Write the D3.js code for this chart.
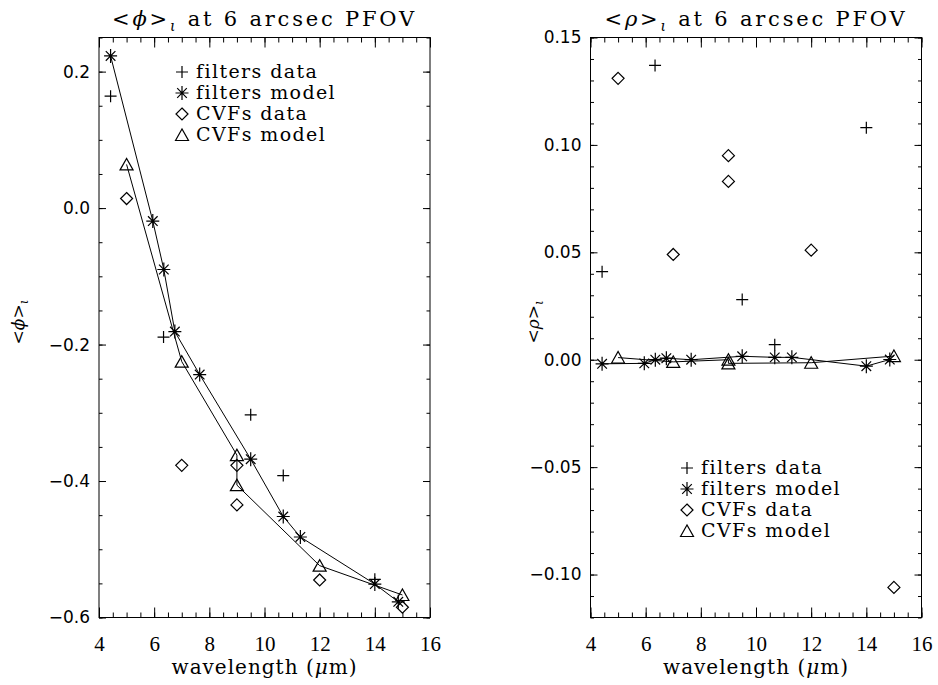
<!DOCTYPE html>
<html>
<head>
<meta charset="utf-8">
<script src="https://cdn.jsdelivr.net/npm/d3@7"></script>
<style>
  body { margin: 0; background: #fff; }
</style>
</head>
<body>
<div id="chart"></div>
<script>
// filter wavelengths (model points) and values
var filtWave = [4.42, 5.95, 6.35, 6.75, 7.65, 9.5, 10.68, 11.3, 14.0, 14.85];
var phiFiltModel = [0.223, -0.019, -0.09, -0.181, -0.244, -0.368, -0.452, -0.482, -0.551, -0.577];
var rhoFiltModel = [-0.0019, -0.0017, 0.0, 0.0007, 0.0, 0.0016, 0.0011, 0.0011, -0.003, 0.0001];

// filter data
var filtDataWave = [4.42, 6.34, 9.5, 10.68, 14.0];
var phiFiltData = [0.164, -0.189, -0.303, -0.392, -0.544];
var rhoFiltData = [0.041, 0.137, 0.028, 0.007, 0.108];

// CVF wavelengths, data and model
var cvfWave = [5.0, 7.0, 9.0, 9.0, 12.0, 15.0];
var phiCvfData = [0.014, -0.377, -0.377, -0.435, -0.545, -0.585];
var rhoCvfData = [0.131, 0.049, 0.095, 0.083, 0.051, -0.106];
var phiCvfModel = [0.064, -0.225, -0.362, -0.406, -0.524, -0.567];
var rhoCvfModel = [0.001, -0.001, 0.0, -0.0017, -0.0014, 0.0017];

// axis ticks
var xMajor = [4, 6, 8, 10, 12, 14, 16];
var xMinor = d3.range(4, 16.001, 0.5);
var phiMajor = [-0.6, -0.4, -0.2, 0.0, 0.2];
var phiMinor = d3.range(-0.6, 0.2501, 0.05);
var rhoMajor = [-0.10, -0.05, 0.0, 0.05, 0.10, 0.15];
var rhoMinor = d3.range(-0.12, 0.1501, 0.01);

var legendLabels = ["filters data", "filters model", "CVFs data", "CVFs model"];

var svgWidth = 938, svgHeight = 685;
var plotTop = 37.5, plotBottom = 617.5;
var serif = "'DejaVu Serif', serif";
var sans = "'DejaVu Sans', sans-serif";

var svg = d3.select("#chart").append("svg")
  .attr("width", svgWidth)
  .attr("height", svgHeight);

// IDL style symbols
var sym = {
  plus: "M-6,0H6M0,-6V6",
  star: "M-6.5,0H6.5M0,-7V7M-4.8,-4.8L4.8,4.8M-4.8,4.8L4.8,-4.8",
  diamond: "M0,-6L6,0L0,6L-6,0Z",
  triangle: "M-6.5,5.5L0,-6L6.5,5.5Z"
};
var legendSyms = [sym.plus, sym.star, sym.diamond, sym.triangle];

function addAxis(g, ax, t, font, size) {
  var a = g.append("g").attr("transform", t).call(ax);
  a.select(".domain").remove();
  a.selectAll(".tick line").attr("stroke", "#000");
  a.attr("font-family", font).attr("font-size", size);
  a.selectAll("text").attr("fill", "#000");
  return a;
}

function drawPanel(p) {
  var x = d3.scaleLinear().domain([4, 16]).range([p.left, p.right]);
  var y = d3.scaleLinear().domain(p.yDomain).range([plotBottom, plotTop]);
  var g = svg.append("g");

  // x axes, bottom and top
  addAxis(g, d3.axisBottom(x).tickValues(xMinor).tickSize(-5).tickFormat(""), `translate(0,${plotBottom})`);
  addAxis(g, d3.axisBottom(x).tickValues(xMajor).tickSize(-10).tickPadding(19).tickFormat(d3.format("d")),
    `translate(0,${plotBottom})`, "'Liberation Serif', serif", 21);
  addAxis(g, d3.axisTop(x).tickValues(xMinor).tickSize(-5).tickFormat(""), `translate(0,${plotTop})`);
  addAxis(g, d3.axisTop(x).tickValues(xMajor).tickSize(-10).tickFormat(""), `translate(0,${plotTop})`);

  // y axes, left and right
  addAxis(g, d3.axisLeft(y).tickValues(p.yMinor).tickSize(-3.5).tickFormat(""), `translate(${p.left},0)`);
  addAxis(g, d3.axisLeft(y).tickValues(p.yMajor).tickSize(-7).tickPadding(9).tickFormat(d3.format(p.fmt)),
    `translate(${p.left},0)`, sans, 17);
  addAxis(g, d3.axisRight(y).tickValues(p.yMinor).tickSize(-3.5).tickFormat(""), `translate(${p.right},0)`);
  addAxis(g, d3.axisRight(y).tickValues(p.yMajor).tickSize(-7).tickFormat(""), `translate(${p.right},0)`);

  // frame
  g.append("rect")
    .attr("x", p.left).attr("y", plotTop)
    .attr("width", p.right - p.left).attr("height", plotBottom - plotTop)
    .attr("fill", "none").attr("stroke", "#000");

  var line = d3.line().x(d => x(d[0])).y(d => y(d[1]));

  // model lines
  g.append("path").datum(d3.zip(filtWave, p.filtModel))
    .attr("d", line).attr("fill", "none").attr("stroke", "#000");
  g.append("path").datum(d3.zip(cvfWave, p.cvfModel))
    .attr("d", line).attr("fill", "none").attr("stroke", "#000");

  function points(wave, vals, shape) {
    g.selectAll(null)
      .data(d3.zip(wave, vals))
      .join("path")
      .attr("transform", d => `translate(${x(d[0])},${y(d[1])})`)
      .attr("d", shape)
      .attr("fill", "none")
      .attr("stroke", "#000")
      .attr("stroke-width", 1.2);
  }
  points(filtDataWave, p.filtData, sym.plus);
  points(filtWave, p.filtModel, sym.star);
  points(cvfWave, p.cvfData, sym.diamond);
  points(cvfWave, p.cvfModel, sym.triangle);

  // legend
  legendLabels.forEach(function (lab, i) {
    var ly = p.legY + i * 21;
    g.append("path")
      .attr("transform", `translate(${p.legX},${ly})`)
      .attr("d", legendSyms[i])
      .attr("fill", "none").attr("stroke", "#000").attr("stroke-width", 1.2);
    g.append("text")
      .attr("x", p.legX + 14).attr("y", ly + 6)
      .attr("font-family", serif).attr("font-size", 19)
      .attr("letter-spacing", 1.4)
      .text(lab);
  });

  // title
  var cx = (p.left + p.right) / 2;
  var title = g.append("text")
    .attr("x", cx).attr("y", 26)
    .attr("text-anchor", "middle")
    .attr("font-family", serif).attr("font-size", 21)
    .attr("letter-spacing", 2.8);
  title.append("tspan").text("<");
  title.append("tspan").attr("font-style", "italic").text(p.sym);
  title.append("tspan").text(">");
  title.append("tspan").attr("font-size", 14).attr("font-style", "italic").attr("dy", 5).text("ι");
  title.append("tspan").attr("dy", -5).text(" at 6 arcsec PFOV");

  // x axis label
  var xl = g.append("text")
    .attr("x", cx).attr("y", 674)
    .attr("text-anchor", "middle")
    .attr("font-family", serif).attr("font-size", 20)
    .attr("letter-spacing", 1);
  xl.append("tspan").text("wavelength (");
  xl.append("tspan").attr("font-style", "italic").text("μ");
  xl.append("tspan").text("m)");

  // y axis label
  var yl = g.append("text")
    .attr("transform", `translate(${p.ylabX},322) rotate(-90)`)
    .attr("text-anchor", "middle")
    .attr("font-family", serif).attr("font-size", 17);
  yl.append("tspan").text("<");
  yl.append("tspan").attr("font-style", "italic").text(p.sym);
  yl.append("tspan").text(">");
  yl.append("tspan").attr("font-size", 12).attr("font-style", "italic").attr("dy", 4).text("ι");
}

drawPanel({
  left: 99, right: 430,
  yDomain: [-0.6, 0.25], yMajor: phiMajor, yMinor: phiMinor, fmt: ".1f",
  filtModel: phiFiltModel, filtData: phiFiltData,
  cvfData: phiCvfData, cvfModel: phiCvfModel,
  sym: "ϕ", legX: 182, legY: 72, ylabX: 24
});

drawPanel({
  left: 590.5, right: 921.5,
  yDomain: [-0.12, 0.15], yMajor: rhoMajor, yMinor: rhoMinor, fmt: ".2f",
  filtModel: rhoFiltModel, filtData: rhoFiltData,
  cvfData: rhoCvfData, cvfModel: rhoCvfModel,
  sym: "ρ", legX: 687, legY: 468, ylabX: 539
});
</script>
</body>
</html>
